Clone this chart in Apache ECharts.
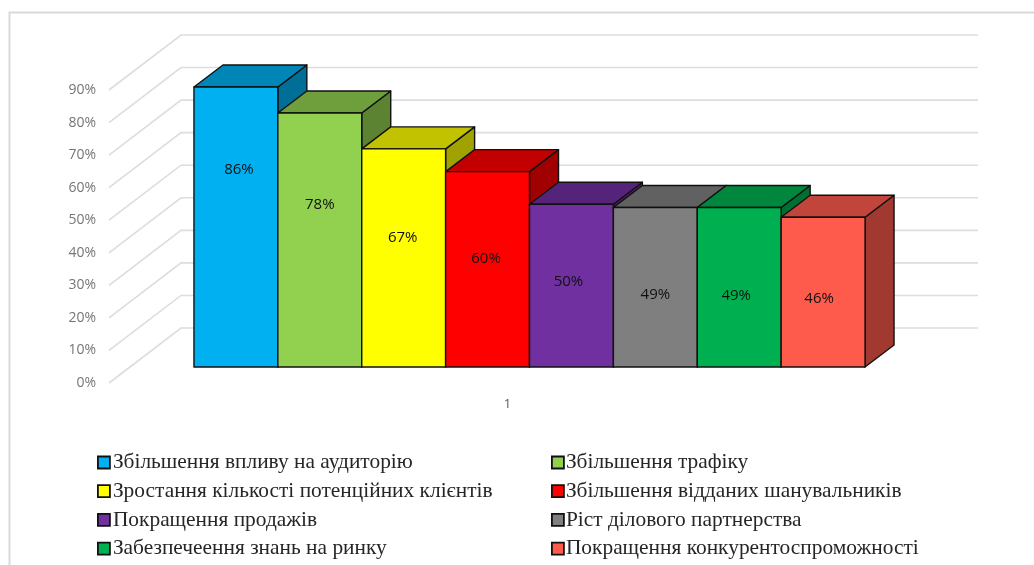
<!DOCTYPE html>
<html>
<head>
<meta charset="utf-8">
<style>html,body{margin:0;padding:0;background:#fff}#c{width:1034px;height:565px}</style>
<script src="https://cdn.jsdelivr.net/npm/echarts@6/dist/echarts.min.js"></script>
</head>
<body>
<div id="c"></div>
<script>
const categories = ['1'];
const seriesNames = [
  'Збільшення впливу на аудиторію',
  'Збільшення трафіку',
  'Зростання кількості потенційних клієнтів',
  'Збільшення відданих шанувальників',
  'Покращення продажів',
  'Ріст ділового партнерства',
  'Забезпечеення знань на ринку',
  'Покращення конкурентоспроможності'
];
const seriesValues = [86, 78, 67, 60, 50, 49, 49, 46];
const seriesColors = ['#00B0F0', '#92D050', '#FFFF00', '#FF0000', '#7030A0', '#7F7F7F', '#00B050', '#FF5B4D'];
const tickValues = [0, 10, 20, 30, 40, 50, 60, 70, 80, 90];

function shade(hex, k) {
  const n = parseInt(hex.slice(1), 16);
  const c = s => Math.round(((n >> s) & 255) * k);
  return 'rgb(' + c(16) + ',' + c(8) + ',' + c(0) + ')';
}

// Projection of the 3D box, in pixels
const WALL_DX = 72, WALL_DY = -55;      // front edge of floor to back wall
const BAR_DX = 22, BAR_DY = -16;        // front edge of floor to front of bars
const DEPTH_DX = 29, DEPTH_DY = -22;    // depth of one bar
const BAR_SHARE = 0.842;                // share of the category band taken by the bars
const EDGE = { stroke: '#111', lineWidth: 1.4, lineJoin: 'round' };
// The reference's data labels were placed by hand: x nudge and height in axis units
const LABEL_NUDGE = [[3, 60.6], [0, 49.9], [-1, 39.7], [-1.5, 33.2], [-3, 26.2], [0, 22.3], [-3, 22], [-4, 21]];

function gridRender(params, api) {
  const cs = params.coordSys;
  const y = api.coord([0, api.value(1)])[1];
  const x0 = cs.x, xb = cs.x + WALL_DX, xe = cs.x + cs.width + WALL_DX, yb = y + WALL_DY;
  return {
    type: 'polyline', silent: true,
    shape: { points: [[x0, y], [xb, yb], [xe, yb]] },
    style: { fill: 'none', stroke: '#DDDDDD', lineWidth: 1.6 }
  };
}

function barRender(params, api) {
  const i = params.seriesIndex - 1;
  const n = seriesValues.length;
  const band = api.size([1, 0])[0];
  const w = band * BAR_SHARE / n;
  const base = api.coord([0, 0]);
  const top = api.coord([0, api.value(1)]);
  const xl = base[0] + BAR_DX + (i - n / 2) * w;
  const xr = xl + w;
  const yb = base[1] + BAR_DY;
  const yt = top[1] + BAR_DY;
  const col = api.visual('color');
  const nudge = LABEL_NUDGE[i];
  const ly = api.coord([0, nudge[1]])[1] + BAR_DY;
  return {
    type: 'group',
    children: [
      { type: 'polygon', shape: { points: [[xr, yt], [xr + DEPTH_DX, yt + DEPTH_DY], [xr + DEPTH_DX, yb + DEPTH_DY], [xr, yb]] },
        style: Object.assign({ fill: shade(col, 0.63) }, EDGE) },
      { type: 'polygon', shape: { points: [[xl, yt], [xl + DEPTH_DX, yt + DEPTH_DY], [xr + DEPTH_DX, yt + DEPTH_DY], [xr, yt]] },
        style: Object.assign({ fill: shade(col, 0.76) }, EDGE) },
      { type: 'rect', shape: { x: xl, y: yt, width: w, height: yb - yt },
        style: Object.assign({ fill: col }, EDGE) },
      { type: 'text', x: (xl + xr) / 2 + nudge[0], y: ly,
        style: { text: api.value(1) + '%', fill: '#111', font: '15px "Open Sans"', align: 'center', verticalAlign: 'middle' } }
    ]
  };
}

const legendBase = {
  orient: 'vertical', itemWidth: 12, itemHeight: 12, itemGap: 7.7, icon: 'rect',
  selectedMode: false, padding: 0,
  itemStyle: { borderColor: '#111', borderWidth: 1.8 }
};
const legendText = pad => ({
  fontFamily: '"Liberation Serif"', fontSize: 21.4, color: '#262626', lineHeight: 20, padding: [0, 0, 0, pad]
});

const chart = echarts.init(document.getElementById('c'), null, { renderer: 'canvas' });
chart.setOption({
  animation: false,
  backgroundColor: '#fff',
  grid: { left: 109, right: 128, top: 90, bottom: 182, containLabel: false },
  xAxis: {
    type: 'category', data: categories,
    axisLine: { show: false }, axisTick: { show: false }, splitLine: { show: false },
    axisLabel: { fontFamily: '"Open Sans"', fontSize: 13, color: '#595959', margin: 15 }
  },
  yAxis: {
    type: 'value', min: 0, max: 90, interval: 10,
    axisLine: { show: false }, axisTick: { show: false }, splitLine: { show: false },
    axisLabel: { formatter: '{value}%', fontFamily: '"Open Sans"', fontSize: 14, color: '#767676', margin: 13 }
  },
  legend: [
    Object.assign({}, legendBase, { left: 97, top: 452, textStyle: legendText(-2), data: seriesNames.filter((_, i) => i % 2 === 0) }),
    Object.assign({}, legendBase, { left: 551, top: 452, textStyle: legendText(-3), data: seriesNames.filter((_, i) => i % 2 === 1) })
  ],
  graphic: [
    { type: 'polyline', silent: true, z: -1, shape: { points: [[9.5, 565], [9.5, 12.5], [1034, 12.5]] },
      style: { fill: 'none', stroke: '#D9D9D9', lineWidth: 2 } }
  ],
  series: [
    { type: 'custom', name: 'gridlines', silent: true, renderItem: gridRender, encode: { x: 0, y: 1 },
      data: tickValues.map(v => [0, v]) }
  ].concat(seriesNames.map((name, i) => ({
    type: 'custom', name, renderItem: barRender, encode: { x: 0, y: 1 },
    itemStyle: { color: seriesColors[i] },
    data: [[0, seriesValues[i]]]
  })))
});
</script>
</body>
</html>
